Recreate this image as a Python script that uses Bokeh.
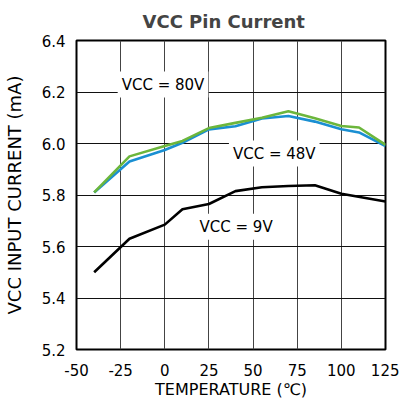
from bokeh.plotting import figure
from bokeh.models import Label, FixedTicker, Range1d
from bokeh.embed import file_html
from bokeh.resources import INLINE

temps = [-40, -20, 0, 10, 25, 40, 55, 70, 85, 100, 110, 125]
vcc80 = [5.81, 5.95, 5.99, 6.01, 6.06, 6.08, 6.10, 6.125, 6.098, 6.068, 6.062, 5.995]
vcc48 = [5.81, 5.93, 5.975, 6.003, 6.055, 6.067, 6.097, 6.107, 6.085, 6.055, 6.043, 5.99]
temps9 = [-40, -20, 0, 10, 25, 40, 55, 70, 85, 100, 125]
vcc9 = [5.50, 5.63, 5.685, 5.745, 5.765, 5.815, 5.83, 5.835, 5.838, 5.805, 5.775]

x_ticks = [-50, -25, 0, 25, 50, 75, 100, 125]
x_tick_labels = ["-50", "-25", "0", "25", "50", "75", "100", "125"]
y_ticks = [5.2, 5.4, 5.6, 5.8, 6.0, 6.2, 6.4]
y_tick_labels = ["5.2", "5.4", "5.6", "5.8", "6.0", "6.2", "6.4"]

labels = [("VCC = 80V", -1, 6.229), ("VCC = 48V", 62, 5.961), ("VCC = 9V", 40.4, 5.677)]

FONT = "DejaVu Sans"

p = figure(frame_width=309, frame_height=309, output_backend="svg", toolbar_location=None,
           x_range=Range1d(-50, 125), y_range=Range1d(5.2, 6.4),
           min_border_left=69, min_border_right=14, min_border_top=35, min_border_bottom=50,
           title="VCC Pin Current")

p.title.text_font = FONT
p.title.text_font_size = "18px"
p.title.text_font_style = "bold"
p.title.align = "left"
p.title.offset = 66
p.title.standoff = 17

p.outline_line_color = "black"
p.outline_line_width = 2
p.background_fill_color = "white"
p.border_fill_color = "white"

p.xgrid.grid_line_color = "#444444"
p.ygrid.grid_line_color = "#111111"
p.xgrid.grid_line_width = 1
p.ygrid.grid_line_width = 1

p.xaxis.ticker = FixedTicker(ticks=x_ticks)
p.yaxis.ticker = FixedTicker(ticks=y_ticks)
p.xaxis.major_label_overrides = {t: s for t, s in zip(x_ticks, x_tick_labels)}
p.yaxis.major_label_overrides = {t: s for t, s in zip(y_ticks, y_tick_labels)}

for ax in (p.xaxis[0], p.yaxis[0]):
    ax.axis_line_color = None
    ax.major_tick_line_color = None
    ax.minor_tick_line_color = None
    ax.major_tick_out = 0
    ax.major_tick_in = 0
    ax.minor_tick_out = 0
    ax.minor_tick_in = 0
    ax.major_label_text_font = FONT
    ax.major_label_text_font_size = "15px"
    ax.major_label_text_color = "black"
    ax.axis_label_text_font = FONT
    ax.axis_label_text_font_style = "normal"
    ax.axis_label_text_color = "black"

p.xaxis.axis_label = "TEMPERATURE (\u2103)"
p.yaxis.axis_label = "VCC INPUT CURRENT (mA)"
p.xaxis.axis_label_text_font_size = "16px"
p.yaxis.axis_label_text_font_size = "18px"
p.xaxis.major_label_standoff = 14
p.yaxis.major_label_standoff = 11
p.xaxis.axis_label_standoff = 1
p.yaxis.axis_label_standoff = 14

p.line(temps9, vcc9, line_color="black", line_width=2.6)
p.line(temps, vcc48, line_color="#1a8fd2", line_width=2.6)
p.line(temps, vcc80, line_color="#6cb63c", line_width=2.6)

for txt, x, y in labels:
    p.add_layout(Label(x=x, y=y, text=txt, text_align="center", text_baseline="middle",
                       text_font=FONT, text_font_size="15px", text_color="black",
                       background_fill_color="white", padding=4))

open("out.html", "w").write(file_html(p, INLINE))
